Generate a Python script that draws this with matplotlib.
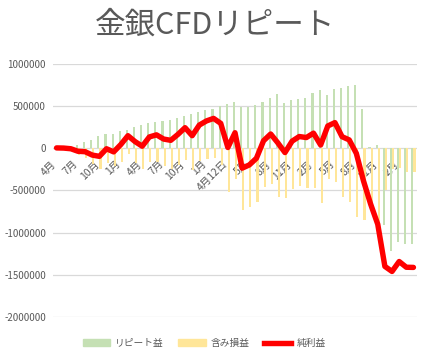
import matplotlib
matplotlib.use('Agg')
import matplotlib.pyplot as plt
from matplotlib.patches import Patch
from matplotlib.lines import Line2D
import matplotlib.transforms as mtransforms
import numpy as np

plt.rcParams['font.family'] = ['Noto Sans CJK JP', 'DejaVu Sans']
plt.rcParams['axes.unicode_minus'] = False

categories = ["4月", "5月", "6月", "7月", "8月", "9月", "10月", "11月", "12月", "1月", "2月", "3月",
              "4月", "5月", "6月", "7月", "8月", "9月", "10月", "11月", "12月", "1月", "2月", "3月",
              "4月12日", "4月19日", "4月26日",
              "5月", "6月", "7月", "8月", "9月", "10月", "11月", "12月", "1月", "2月", "3月",
              "4月", "5月", "6月", "7月", "8月", "9月", "10月", "11月", "12月", "1月", "2月", "3月", "4月"]

repeat_profit = [0, 5000, 20000, 45000, 70000, 99000, 146000, 170000, 172000, 209000,
                 217000, 250000, 276000, 300000, 318000, 325000, 335000, 360000, 383000, 406000,
                 432000, 454000, 465000, 497000, 525000, 550000, 493000, 493000, 513000, 552000,
                 592000, 641000, 537000, 572000, 584000, 602000, 651000, 690000, 631000, 700000,
                 716000, 738000, 752000, 465000, 10000, 35000, -907000, -1220000, -1114000, -1130000,
                 -1136000]

unrealized = [5000, -2000, -25000, -80000, -110000, -180000, -240000, -175000, -215000, -160000,
              -65000, -170000, -250000, -165000, -158000, -215000, -240000, -195000, -138000, -256000,
              -156000, -129000, -110000, -201000, -515000, -365000, -728000, -690000, -631000, -462000,
              -422000, -576000, -587000, -487000, -444000, -474000, -471000, -651000, -366000, -395000,
              -578000, -638000, -812000, -850000, -670000, -935000, -493000, -240000, -228000, -280000,
              -276000]

net_profit = [5000, 3000, -5000, -35000, -40000, -80000, -95000, -5000, -42000, 45000,
              150000, 80000, 25000, 135000, 160000, 110000, 95000, 165000, 245000, 150000,
              276000, 325000, 355000, 296000, 10000, 185000, -235000, -197000, -118000, 90000,
              170000, 65000, -50000, 85000, 140000, 128000, 180000, 39000, 265000, 305000,
              138000, 100000, -60000, -385000, -660000, -900000, -1400000, -1460000, -1342000, -1410000,
              -1412000]

y_ticks = [1000000, 500000, 0, -500000, -1000000, -1500000, -2000000]
y_tick_labels = ["1000000", "500000", "0", "-500000", "-1000000", "-1500000", "-2000000"]

series_names = ["リピート益", "含み損益", "純利益"]
title = "金銀CFDリピート"

GREEN = '#c5e0b4'
YELLOW = '#ffe699'
RED = '#ff0000'
GRAY = '#595959'

W, H = 430, 357
fig = plt.figure(figsize=(W / 100, H / 100), dpi=100)
ax = fig.add_axes([53 / W, 1 - 317 / H, (417 - 53) / W, (317 - 64) / H])

x = np.arange(len(categories))
bw = 0.3
ax.bar(x - bw / 2, repeat_profit, width=bw, color=GREEN, zorder=2)
ax.bar(x + bw / 2, unrealized, width=bw, color=YELLOW, zorder=2)
ax.plot(x, net_profit, color=RED, lw=3.9, solid_joinstyle='round', solid_capstyle='round', zorder=4)

ax.set_xlim(-0.5, len(categories) - 0.5)
ax.set_ylim(-2000000, 1000000)
ax.set_yticks(y_ticks)
ax.set_yticklabels(y_tick_labels)
ax.yaxis.grid(True, color='#d9d9d9', lw=0.9, zorder=0)
ax.set_axisbelow(True)
for s in ['top', 'right', 'left']:
    ax.spines[s].set_visible(False)
ax.spines['bottom'].set_position(('data', 0))
ax.spines['bottom'].set_visible(False)
ax.tick_params(axis='y', length=0, labelsize=7, labelcolor=GRAY, pad=5)

tick_idx = list(range(0, len(categories), 3))
ax.set_xticks(tick_idx)
ax.set_xticklabels([categories[i] for i in tick_idx], rotation=45, ha='right', va='center',
                   rotation_mode='anchor')
ax.tick_params(axis='x', length=0, labelsize=7.5, labelcolor=GRAY, pad=10)
offset = mtransforms.ScaledTranslation(-2 / 100, 0, fig.dpi_scale_trans)
for lbl in ax.get_xticklabels():
    lbl.set_transform(lbl.get_transform() + offset)

fig.text(0.5, 1 - 25 / H, title, ha='center', va='center', fontsize=22, color=GRAY)

handles = [Patch(color=GREEN), Patch(color=YELLOW), Line2D([0], [0], color=RED, lw=3.9)]
fig.legend(handles, series_names, loc='center', bbox_to_anchor=(0.475, 1 - 343 / H), ncol=3,
           frameon=False, fontsize=7, labelcolor=GRAY, handlelength=2.8, columnspacing=1.5,
           handletextpad=0.5)

fig.savefig('out.png', dpi=100)
